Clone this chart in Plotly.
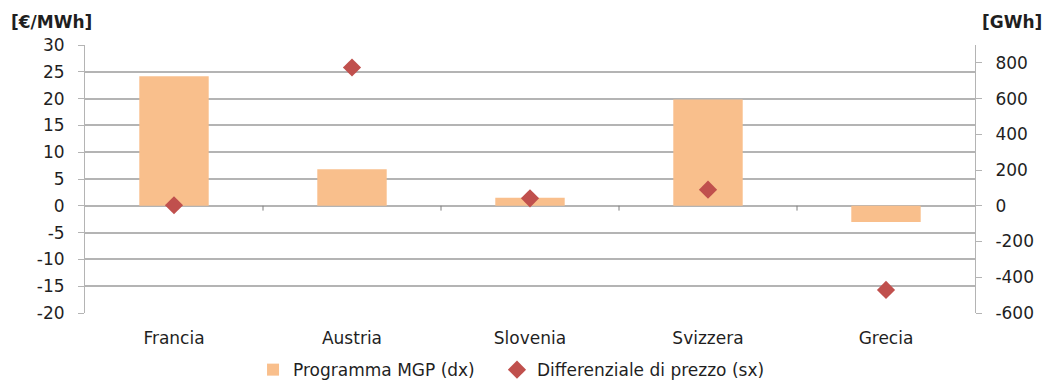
import plotly.graph_objects as go

# Interconnection data by border
categories = ["Francia", "Austria", "Slovenia", "Svizzera", "Grecia"]
programma_mgp = [725, 205, 45, 595, -90]          # GWh (right axis)
differenziale_prezzo = [0.1, 25.8, 1.4, 3.0, -15.7]  # €/MWh (left axis)

left_ticks = list(range(-20, 31, 5))
right_ticks = list(range(-600, 801, 200))
left_labels = [str(v) for v in left_ticks]
right_labels = [str(v) for v in right_ticks]

FONT = "'DejaVu Sans', sans-serif"
FS = 17
GRID = "#b4b4b4"
TEXT = "#1f1f1f"

fig = go.Figure()

fig.add_trace(go.Bar(
    x=categories, y=programma_mgp, yaxis="y",
    name="Programma MGP (dx)", legend="legend",
    marker=dict(color="#f9bf8c", line=dict(width=0)),
    width=0.39,
))

fig.add_trace(go.Scatter(
    x=categories, y=differenziale_prezzo, yaxis="y2",
    mode="markers", name="Differenziale di prezzo (sx)", legend="legend2",
    marker=dict(symbol="diamond", size=14, color="#c0504d"),
))

# small category separators along the zero line
for i in range(len(categories) - 1):
    fig.add_shape(type="line", xref="x", yref="y2",
                  x0=i + 0.5, x1=i + 0.5, y0=0, y1=-0.9,
                  line=dict(color="#7f7f7f", width=1))

legend_style = dict(
    orientation="h", xanchor="left", y=-0.213, yanchor="middle",
    font=dict(size=FS), bgcolor="rgba(0,0,0,0)", itemwidth=30,
)

fig.update_layout(
    width=1045, height=381,
    margin=dict(l=85, r=70, t=45, b=68, autoexpand=False),
    paper_bgcolor="white", plot_bgcolor="white",
    font=dict(family=FONT, size=FS, color=TEXT),
    xaxis=dict(
        type="category", range=[-0.5, len(categories) - 0.5],
        showgrid=False, showline=False, ticks="",
        ticklabelstandoff=13, tickfont=dict(size=FS),
    ),
    yaxis=dict(
        side="right", range=[-600, 900],
        tickmode="array", tickvals=right_ticks, ticktext=right_labels,
        showgrid=False, zeroline=False,
        showline=True, linecolor=GRID, linewidth=1,
        ticks="outside", ticklen=6, tickcolor=GRID,
        ticklabelstandoff=10, tickfont=dict(size=FS),
    ),
    yaxis2=dict(
        overlaying="y", side="left", range=[-20, 30],
        tickmode="array", tickvals=left_ticks, ticktext=left_labels,
        showgrid=True, gridcolor=GRID, gridwidth=1.5,
        zeroline=True, zerolinecolor=GRID, zerolinewidth=1.5,
        showline=True, linecolor=GRID, linewidth=1,
        ticks="outside", ticklen=6, tickcolor=GRID,
        ticklabelstandoff=10, tickfont=dict(size=FS),
    ),
    legend=dict(x=0.1888, **legend_style),
    legend2=dict(x=0.4629, **legend_style),
    showlegend=True,
    annotations=[
        dict(text="<b>[€/MWh]</b>", xref="paper", yref="paper",
             x=-0.038, y=1.085, xanchor="center", yanchor="middle",
             showarrow=False, font=dict(size=FS, color=TEXT)),
        dict(text="<b>[GWh]</b>", xref="paper", yref="paper",
             x=1.042, y=1.085, xanchor="center", yanchor="middle",
             showarrow=False, font=dict(size=FS, color=TEXT)),
    ],
)

fig.write_html("out.html")
